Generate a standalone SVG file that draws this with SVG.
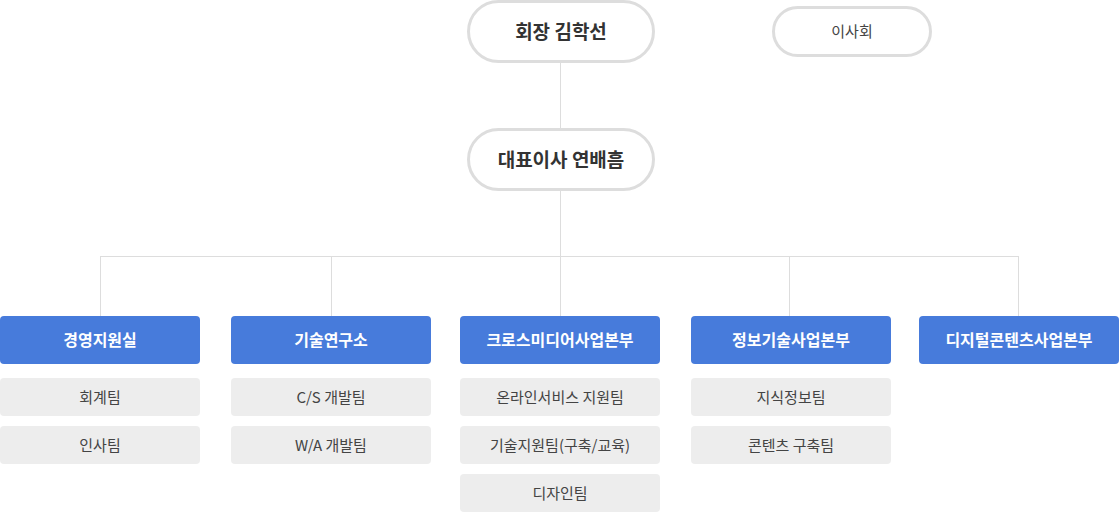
<svg xmlns="http://www.w3.org/2000/svg" width="1119" height="512" viewBox="0 0 1119 512">
<style>
text{font-family:"Noto Sans CJK KR","Noto Sans",sans-serif;text-anchor:middle}
.pill{fill:#fff;stroke:#dddddd;stroke-width:3}
.ttl{font-size:19px;font-weight:700;fill:#333}
.sm{font-size:15px;fill:#444}
.dept{fill:#477bdb}
.dt{font-size:16px;font-weight:700;fill:#fff}
.team{fill:#ededed}
.tt{font-size:15px;fill:#444}
.ln{stroke:#dddddd;stroke-width:1;fill:none}
</style>
<rect width="1119" height="512" fill="#fff"/>
<g id="connectors">
<path class="ln" d="M560.5 63V129M560.5 190V256.5M100.5 256.5H1018.5M100.5 256V316M331.5 256V316M560.5 256V316M789.5 256V316M1018.5 256V316"/>
</g>
<g id="chairman"><rect class="pill" x="468.5" y="1.5" width="185" height="60" rx="30"/><text class="ttl" x="561" y="38.5">회장 김학선</text></g>
<g id="board"><rect class="pill" x="773.5" y="7.5" width="157" height="48" rx="24"/><text class="sm" x="852" y="37">이사회</text></g>
<g id="ceo"><rect class="pill" x="468.5" y="129.5" width="185" height="60" rx="30"/><text class="ttl" x="561" y="166.5">대표이사 연배흠</text></g>

<g id="dept1"><rect class="dept" x="0" y="316" width="200" height="48" rx="4"/><text class="dt" x="100" y="346">경영지원실</text></g>
<g id="team1a"><rect class="team" x="0" y="378" width="200" height="38" rx="4"/><text class="tt" x="100" y="402.5">회계팀</text></g>
<g id="team1b"><rect class="team" x="0" y="426" width="200" height="38" rx="4"/><text class="tt" x="100" y="450.5">인사팀</text></g>

<g id="dept2"><rect class="dept" x="231" y="316" width="200" height="48" rx="4"/><text class="dt" x="331" y="346">기술연구소</text></g>
<g id="team2a"><rect class="team" x="231" y="378" width="200" height="38" rx="4"/><text class="tt" x="331" y="402.5">C/S 개발팀</text></g>
<g id="team2b"><rect class="team" x="231" y="426" width="200" height="38" rx="4"/><text class="tt" x="331" y="450.5">W/A 개발팀</text></g>

<g id="dept3"><rect class="dept" x="460" y="316" width="200" height="48" rx="4"/><text class="dt" x="560" y="346">크로스미디어사업본부</text></g>
<g id="team3a"><rect class="team" x="460" y="378" width="200" height="38" rx="4"/><text class="tt" x="560" y="402.5">온라인서비스 지원팀</text></g>
<g id="team3b"><rect class="team" x="460" y="426" width="200" height="38" rx="4"/><text class="tt" x="560" y="450.5">기술지원팀(구축/교육)</text></g>
<g id="team3c"><rect class="team" x="460" y="474" width="200" height="38" rx="4"/><text class="tt" x="560" y="498.5">디자인팀</text></g>

<g id="dept4"><rect class="dept" x="691" y="316" width="200" height="48" rx="4"/><text class="dt" x="791" y="346">정보기술사업본부</text></g>
<g id="team4a"><rect class="team" x="691" y="378" width="200" height="38" rx="4"/><text class="tt" x="791" y="402.5">지식정보팀</text></g>
<g id="team4b"><rect class="team" x="691" y="426" width="200" height="38" rx="4"/><text class="tt" x="791" y="450.5">콘텐츠 구축팀</text></g>

<g id="dept5"><rect class="dept" x="919" y="316" width="200" height="48" rx="4"/><text class="dt" x="1019" y="346">디지털콘텐츠사업본부</text></g>
</svg>
